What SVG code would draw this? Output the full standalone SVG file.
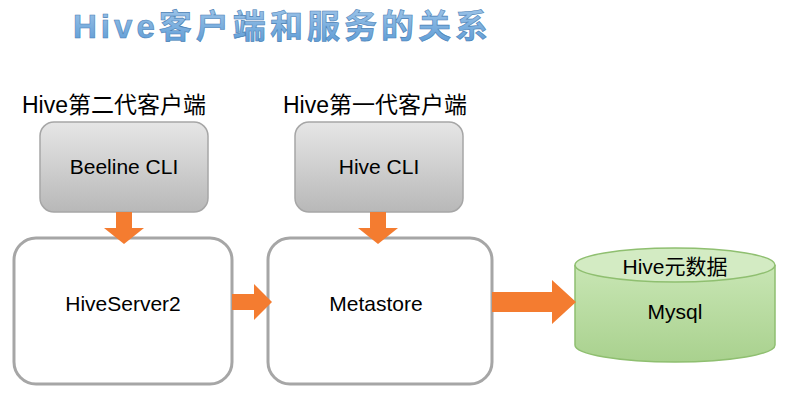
<svg xmlns="http://www.w3.org/2000/svg" width="795" height="400" viewBox="0 0 795 400">
<defs>
<linearGradient id="g" x1="0" y1="0" x2="0" y2="1"><stop offset="0" stop-color="#e6e6e6"/><stop offset="1" stop-color="#b8b8b8"/></linearGradient>
<linearGradient id="t" x1="0" y1="0" x2="0" y2="1"><stop offset="0" stop-color="#9cc3e8"/><stop offset="1" stop-color="#5b9bd5"/></linearGradient>
<linearGradient id="c" x1="0" y1="0" x2="0" y2="1"><stop offset="0" stop-color="#c8e6b4"/><stop offset="1" stop-color="#a9d18e"/></linearGradient>
</defs>
<style>
text{font-family:"Liberation Sans","Noto Sans CJK SC",sans-serif;fill:#000}
.l{font-size:23px}
.n{font-size:21px;text-anchor:middle}
.gb{fill:url(#g);stroke:#a6a6a6;stroke-width:1.5}
.wb{fill:#fff;stroke:#a6a6a6;stroke-width:3}
.ar{fill:#f47c30}
</style>
<text x="73" y="38" font-size="33" font-weight="bold" textLength="415" style="fill:url(#t);stroke:#4a7fb5;stroke-width:0.6">Hive客户端和服务的关系</text>
<text class="l" x="22" y="113">Hive第二代客户端</text>
<text class="l" x="283" y="113">Hive第一代客户端</text>
<g id="beeline"><rect class="gb" x="40" y="122" width="168" height="90" rx="14"/><text class="n" x="124" y="174">Beeline CLI</text></g>
<g id="hivecli"><rect class="gb" x="295" y="122" width="168" height="90" rx="14"/><text class="n" x="379" y="174">Hive CLI</text></g>
<g id="hs2"><rect class="wb" x="14" y="238" width="218" height="146" rx="22"/><text class="n" x="123" y="311">HiveServer2</text></g>
<g id="meta"><rect class="wb" x="268" y="238" width="224" height="146" rx="22"/><text class="n" x="376" y="311">Metastore</text></g>
<g id="mysql">
<path d="M575 265 L575 345 A100 17 0 0 0 775 345 L775 265" fill="url(#c)" stroke="#8fbf70" stroke-width="1.5"/>
<ellipse cx="675" cy="265" rx="100" ry="17" fill="#d3ebc3" stroke="#8fbf70" stroke-width="1.5"/>
<text class="n" x="675" y="274">Hive元数据</text>
<text class="n" x="675" y="319">Mysql</text>
</g>
<g id="connectors">
<polygon class="ar" points="116,212 132,212 132,228 144,228 124,244 104,228 116,228"/>
<polygon class="ar" points="370,212 386,212 386,228 398,228 378,244 358,228 370,228"/>
<polygon class="ar" points="232,294 254,294 254,284 272,302 254,320 254,310 232,310"/>
<polygon class="ar" points="492,292 552,292 552,280 576,302 552,324 552,312 492,312"/>
</g>
</svg>
